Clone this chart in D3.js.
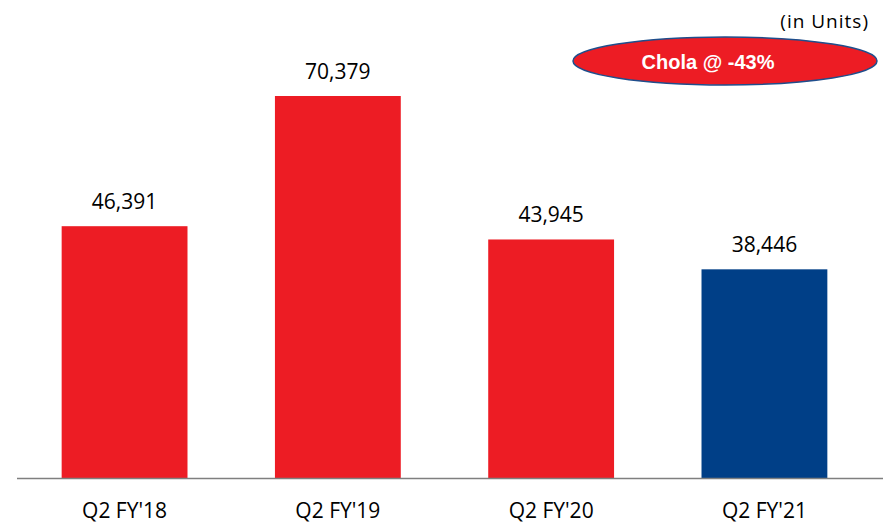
<!DOCTYPE html>
<html>
<head>
<meta charset="utf-8">
<script src="https://cdn.jsdelivr.net/npm/d3@7"></script>
<style>
  body { margin: 0; background: #fff; }
  svg { display: block; }
</style>
</head>
<body>
<div id="chart"></div>
<script>
// data
const quarters = ["Q2 FY'18", "Q2 FY'19", "Q2 FY'20", "Q2 FY'21"];
const units = [46391, 70379, 43945, 38446];
const barColors = ["#ed1c24", "#ed1c24", "#ed1c24", "#003f87"];

const width = 883;
const height = 528;
const baseY = 478;

let svg = d3.select("#chart")
  .append("svg")
  .attr("width", width)
  .attr("height", height);

let xScale = d3.scaleBand()
  .domain(quarters)
  .range([19, 870])
  .paddingInner(0.41)
  .paddingOuter(0.2);

let yScale = d3.scaleLinear()
  .domain([0, 70379])
  .range([baseY, 96]);

// bars
svg.selectAll("rect.bar")
  .data(units)
  .enter()
  .append("rect")
  .attr("class", "bar")
  .attr("x", (d, i) => xScale(quarters[i]))
  .attr("y", d => yScale(d))
  .attr("width", xScale.bandwidth())
  .attr("height", d => baseY - yScale(d))
  .attr("fill", (d, i) => barColors[i]);

// baseline
let xAxis = d3.axisBottom(xScale).tickSize(0).tickPadding(25);
let gx = svg.append("g")
  .attr("transform", `translate(0, ${baseY})`)
  .call(xAxis);
gx.select(".domain")
  .attr("d", `M17,0.5H${width}`)
  .attr("stroke", "#7f7f7f")
  .attr("stroke-width", 1.5);
gx.selectAll("text")
  .attr("font-family", "'Open Sans', Lato, sans-serif")
  .attr("font-size", 21)
  .attr("fill", "#000");

// value labels
svg.selectAll("text.val")
  .data(units)
  .enter()
  .append("text")
  .attr("class", "val")
  .attr("x", (d, i) => xScale(quarters[i]) + xScale.bandwidth() / 2)
  .attr("y", d => yScale(d) - 17)
  .attr("text-anchor", "middle")
  .attr("font-family", "'Open Sans', Lato, sans-serif")
  .attr("font-size", 21)
  .attr("fill", "#000")
  .text(d => d3.format(",")(d));

// unit note
svg.append("text")
  .attr("x", 869)
  .attr("y", 28)
  .attr("text-anchor", "end")
  .attr("font-family", "'Open Sans', Lato, sans-serif")
  .attr("font-size", 19)
  .attr("letter-spacing", 1)
  .text("(in Units)");

// growth callout
svg.append("ellipse")
  .attr("cx", 725)
  .attr("cy", 61)
  .attr("rx", 152)
  .attr("ry", 24)
  .attr("fill", "#ed1c24")
  .attr("stroke", "#1f4e8c")
  .attr("stroke-width", 1.5);

svg.append("text")
  .attr("x", 708)
  .attr("y", 69)
  .attr("text-anchor", "middle")
  .attr("font-family", "Arial, 'Liberation Sans', sans-serif")
  .attr("font-weight", "bold")
  .attr("font-size", 20)
  .attr("fill", "#fff")
  .text("Chola @ -43%");
</script>
</body>
</html>
